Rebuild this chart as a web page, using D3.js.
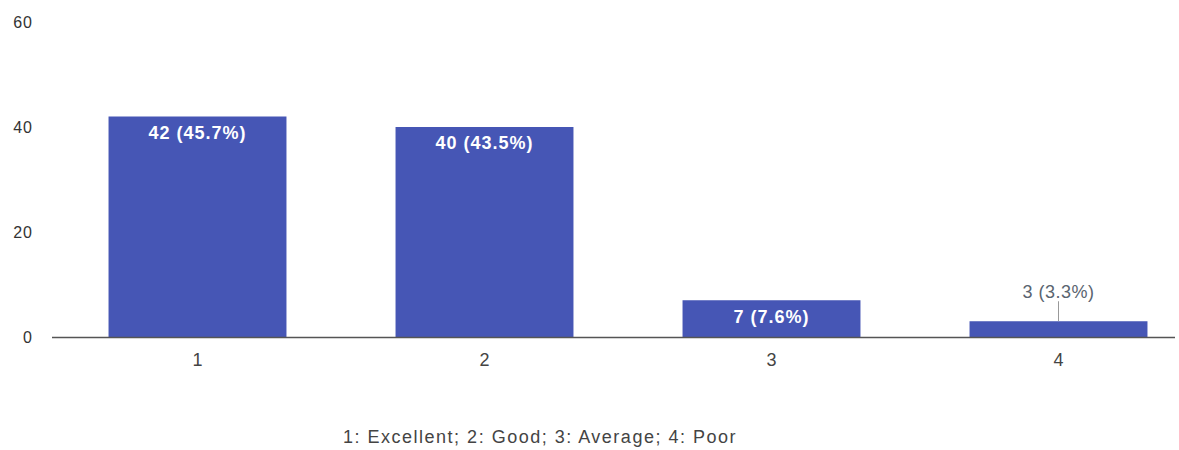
<!DOCTYPE html>
<html>
<head>
<meta charset="utf-8">
<script src="https://cdn.jsdelivr.net/npm/d3@7"></script>
<style>
  body { margin: 0; background: #fff; }
</style>
</head>
<body>
<svg id="chart"></svg>
<script>
var categories = ["1", "2", "3", "4"]
var counts = [42, 40, 7, 3]
var percents = ["45.7%", "43.5%", "7.6%", "3.3%"]
var yTicks = [0, 20, 40, 60]
var legendText = "1: Excellent; 2: Good; 3: Average; 4: Poor"

var dimensions = {
    width: 1179,
    height: 450,
    margin: { top: 22, bottom: 113, left: 54, right: 0 }
}

var font = "Liberation Sans, Arial, sans-serif"

var svg = d3.select("#chart")
            .attr("width", dimensions.width)
            .attr("height", dimensions.height)

var yScale = d3.scaleLinear()
               .domain([0, 60])
               .range([dimensions.height - dimensions.margin.bottom, dimensions.margin.top])

var xScale = d3.scaleBand()
               .domain(categories)
               .range([54, 1202])
               .paddingInner(0.38)
               .paddingOuter(0.19)

var data = categories.map((c, i) => ({cat: c, count: counts[i], pct: percents[i]}))

// y tick labels
svg.append("g")
   .selectAll("text")
   .data(yTicks)
   .enter()
   .append("text")
   .attr("x", 33)
   .attr("y", d => yScale(d))
   .attr("dy", "0.35em")
   .attr("text-anchor", "end")
   .attr("font-family", font)
   .attr("font-size", 16)
   .attr("letter-spacing", 1)
   .attr("fill", "#333")
   .text(d => d)

// bars
svg.append("g")
   .selectAll("rect")
   .data(data)
   .enter()
   .append("rect")
   .attr("x", d => xScale(d.cat))
   .attr("y", d => yScale(d.count))
   .attr("width", xScale.bandwidth())
   .attr("height", d => yScale(0) - yScale(d.count))
   .attr("fill", "#4656b5")

// baseline
svg.append("line")
   .attr("x1", 52)
   .attr("x2", 1175)
   .attr("y1", yScale(0) + 0.5)
   .attr("y2", yScale(0) + 0.5)
   .attr("stroke", "#555")
   .attr("stroke-width", 1.5)

// value labels
var inside = data.filter(d => d.count >= 5)
var outside = data.filter(d => d.count < 5)

svg.append("g")
   .selectAll("text")
   .data(inside)
   .enter()
   .append("text")
   .attr("x", d => xScale(d.cat) + xScale.bandwidth() / 2)
   .attr("y", d => yScale(d.count) + 16)
   .attr("dy", "0.35em")
   .attr("text-anchor", "middle")
   .attr("font-family", font)
   .attr("font-size", 18)
   .attr("letter-spacing", 1)
   .attr("font-weight", "bold")
   .attr("fill", "#fff")
   .text(d => `${d.count} (${d.pct})`)

var outG = svg.append("g")
outG.selectAll("line")
    .data(outside)
    .enter()
    .append("line")
    .attr("x1", d => xScale(d.cat) + xScale.bandwidth() / 2)
    .attr("x2", d => xScale(d.cat) + xScale.bandwidth() / 2)
    .attr("y1", d => yScale(d.count) - 20)
    .attr("y2", d => yScale(d.count))
    .attr("stroke", "#999")
    .attr("stroke-width", 1)

outG.selectAll("text")
    .data(outside)
    .enter()
    .append("text")
    .attr("x", d => xScale(d.cat) + xScale.bandwidth() / 2)
    .attr("y", d => yScale(d.count) - 30)
    .attr("dy", "0.35em")
    .attr("text-anchor", "middle")
    .attr("font-family", font)
    .attr("font-size", 18)
    .attr("letter-spacing", 0.5)
    .attr("fill", "#5a6470")
    .text(d => `${d.count} (${d.pct})`)

// category labels
svg.append("g")
   .selectAll("text")
   .data(categories)
   .enter()
   .append("text")
   .attr("x", d => xScale(d) + xScale.bandwidth() / 2)
   .attr("y", 360)
   .attr("dy", "0.35em")
   .attr("text-anchor", "middle")
   .attr("font-family", font)
   .attr("font-size", 18)
   .attr("fill", "#444")
   .text(d => d)

// legend text
svg.append("text")
   .attr("x", 540)
   .attr("y", 437)
   .attr("dy", "0.35em")
   .attr("text-anchor", "middle")
   .attr("font-family", font)
   .attr("font-size", 18)
   .attr("letter-spacing", 1.5)
   .attr("fill", "#444")
   .text(legendText)
</script>
</body>
</html>
